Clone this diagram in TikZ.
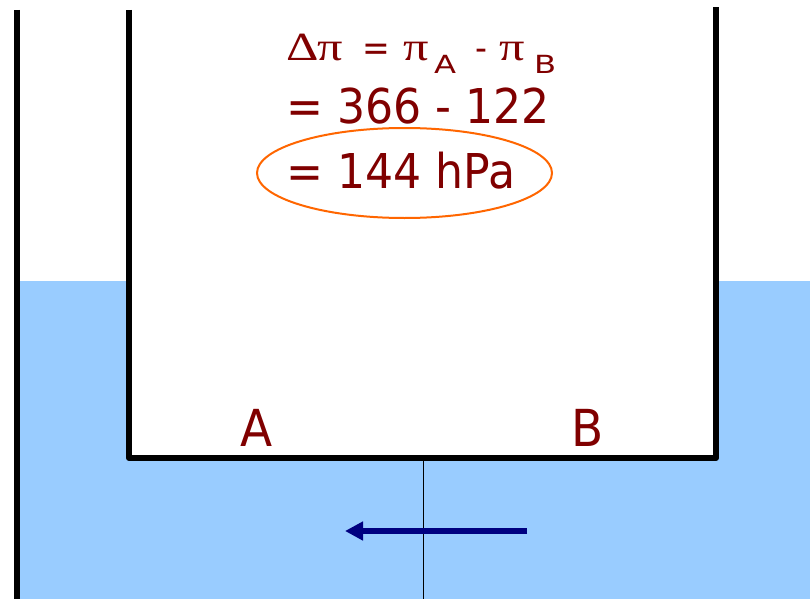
\documentclass[tikz,border=0pt]{standalone}
\usepackage{fontspec}
\usepackage{graphicx}
\setmainfont{DejaVu Sans}[FakeStretch=0.92]
\newfontfamily\greekfont{Liberation Serif}
\usetikzlibrary{arrows.meta,shapes.geometric}
\definecolor{water}{RGB}{153,204,255}
\definecolor{txtred}{RGB}{128,0,0}
\definecolor{flow}{RGB}{0,0,128}
\definecolor{ring}{RGB}{255,102,0}
\newcommand{\gk}[1]{\scalebox{1.26}[1]{\greekfont\fontsize{40}{40}\selectfont #1}}
\newcommand{\sbx}[1]{\raisebox{-13pt}{\scalebox{1.4}[1]{\fontsize{25}{25}\selectfont #1}}}
\tikzset{
  wall/.style={line width=6pt, black, line join=round},
  membrane/.style={line width=1pt, black},
  formula/.style={anchor=base west, inner sep=0pt, text=txtred},
  sidelabel/.style={anchor=base, inner sep=0pt, text=txtred, font=\fontsize{51}{51}\selectfont},
  flowarrow/.style={line width=6pt, flow, -{Triangle[length=18pt,width=18pt]}},
  highlight/.style={draw=ring, line width=2pt, ellipse, minimum width=295pt, minimum height=90pt, inner sep=0pt}
}
\begin{document}
\begin{tikzpicture}[x=1pt,y=-1pt]
\useasboundingbox (0,0) rectangle (810,599);
% water
\fill[water] (20,281) rectangle (810,599);
\fill[white] (129,0) rectangle (716,458);
% walls
\coordinate (ot) at (17,10);
\coordinate (ob) at (17,599);
\coordinate (lt) at (129,10);
\coordinate (lb) at (129,458);
\coordinate (rb) at (716,458);
\coordinate (rt) at (716,7);
\draw[wall] (ot) -- (ob);
\draw[wall] (lt) -- (lb) -- (rb) -- (rt);
% membrane
\coordinate (mt) at (423,461);
\coordinate (mb) at (423,599);
\draw[membrane] (mt) -- (mb);
% arrow
\coordinate (as) at (527,531);
\coordinate (ae) at (345,531);
\draw[flowarrow] (as) -- (ae);
% texts
\node[formula, font=\fontsize{36}{36}\selectfont] (l1) at (286,61)
  {\makebox[31pt][l]{\gk{Δ}}\makebox[45pt][l]{\gk{π}}\makebox[41pt][l]{=}\makebox[31pt][l]{\gk{π}}\makebox[41pt][l]{\sbx{A}}\makebox[24pt][l]{-}\makebox[35pt][l]{\gk{π}}\sbx{B}};
\node[formula, font=\fontsize{48}{48}\selectfont] (l2) at (286,123) {= 366 - 122};
\node[formula, font=\fontsize{48}{48}\selectfont] (l3) at (286,188) {= 144 hPa};
\node[highlight] (ring) at (404.5,173) {};
\node[sidelabel] (A) at (257,446) {A};
\node[sidelabel] (B) at (588,446) {B};
\end{tikzpicture}
\end{document}
